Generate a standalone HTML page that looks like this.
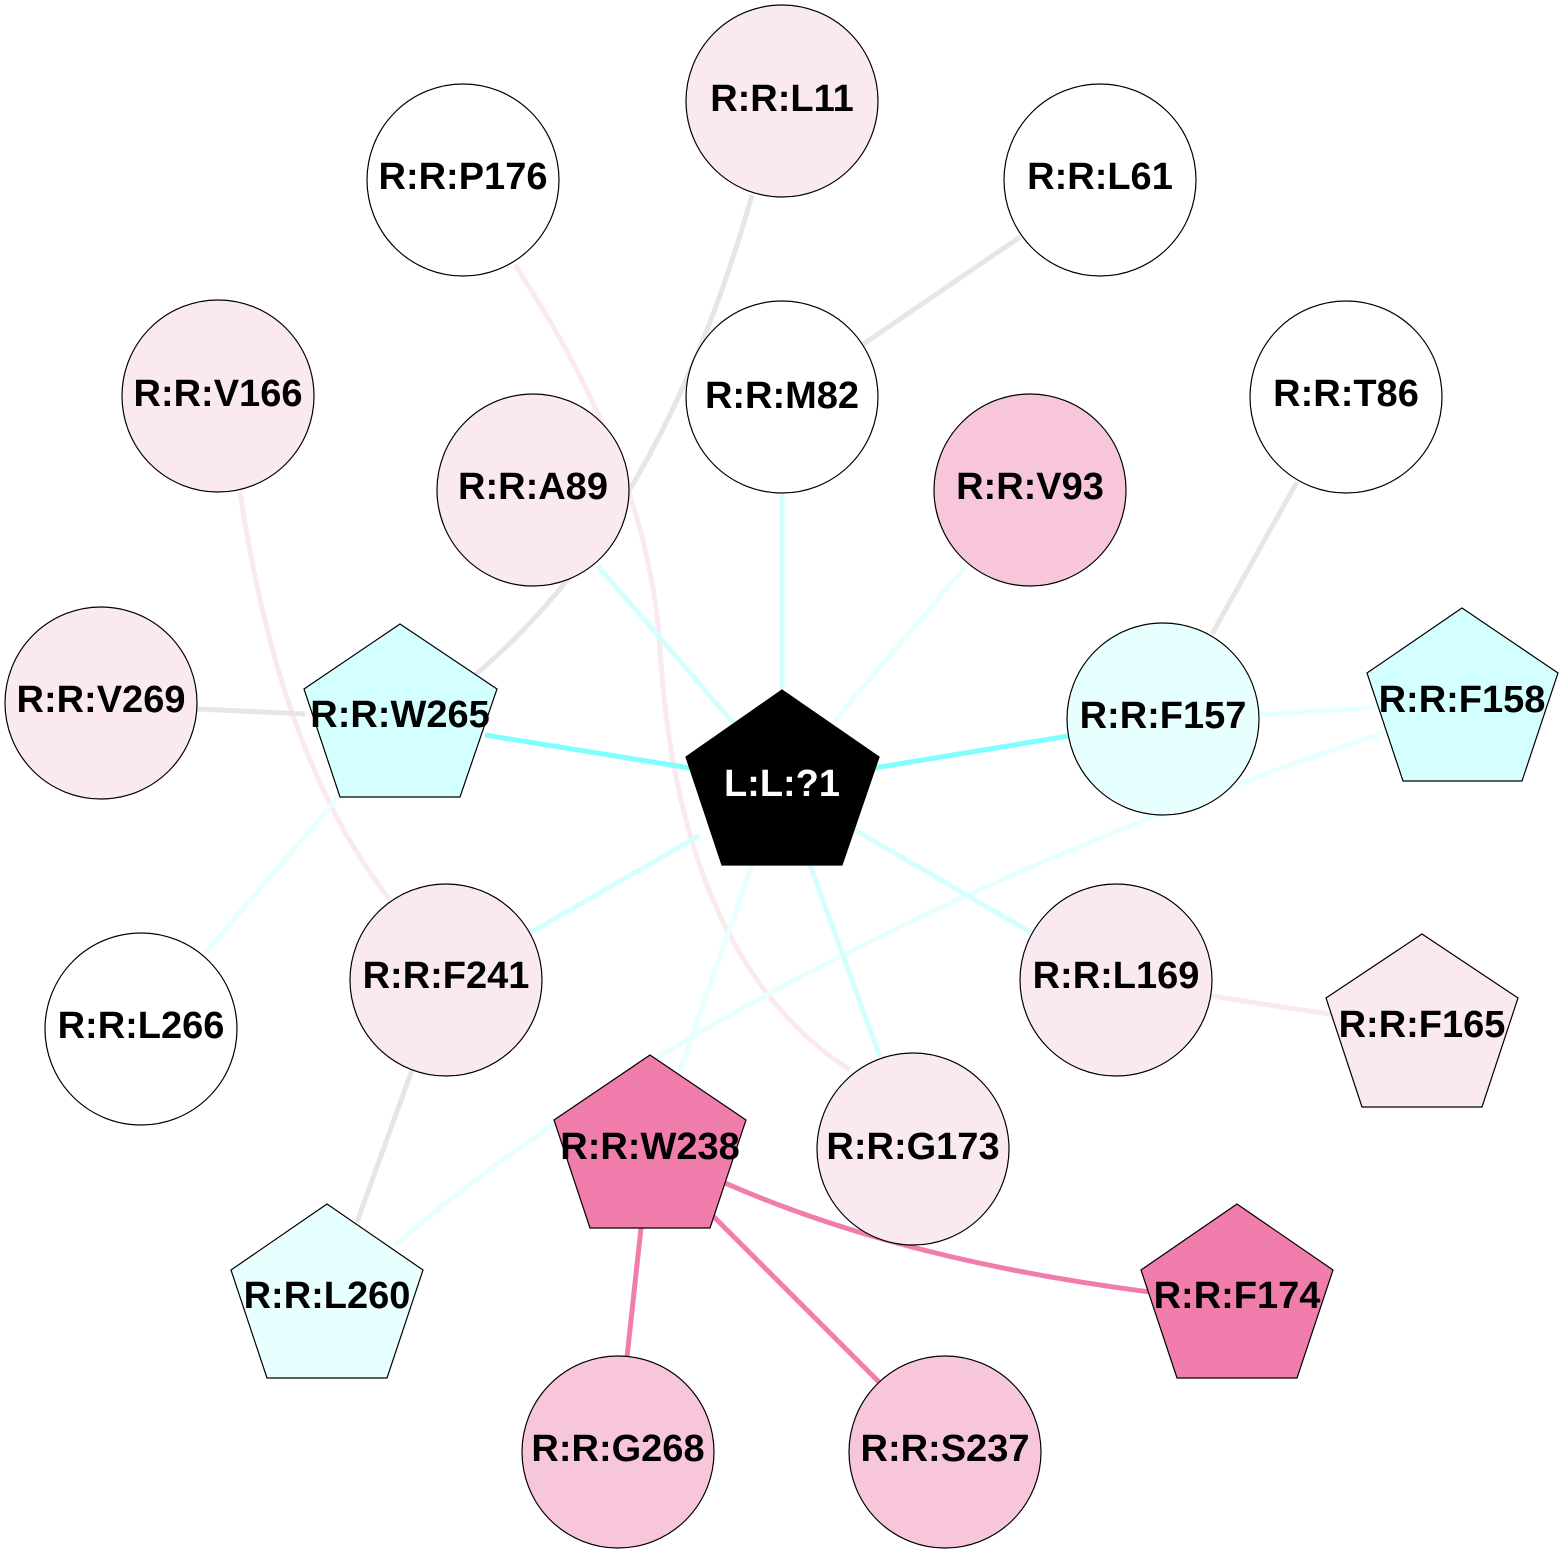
<!DOCTYPE html>
<html><head><meta charset="utf-8"><style>
html,body{margin:0;padding:0;background:#fff;}
svg{display:block}
text{font-family:"Liberation Sans",Arial,sans-serif;font-weight:bold;font-size:38px;text-anchor:middle;dominant-baseline:central;}
</style></head><body>
<svg width="1564" height="1554" viewBox="0 0 1564 1554" xmlns="http://www.w3.org/2000/svg">
<g fill="none" stroke-width="5">
<path d="M752,195 Q660,520 475,675" stroke="#e6e6e6"/>
<path d="M1020,237 L862,345" stroke="#e6e6e6"/>
<path d="M515,265 Q650,470 660,650 Q680,960 850,1070" stroke="#fbe9f0"/>
<path d="M240,492 Q280,760 390,900" stroke="#fbe9f0"/>
<path d="M782,493 L782,690" stroke="#d4ffff"/>
<path d="M598,566 L735,725" stroke="#d4ffff"/>
<path d="M965,567 L835,720" stroke="#e8ffff"/>
<path d="M1297,482 L1212,634" stroke="#e6e6e6"/>
<path d="M197,709 L305,714" stroke="#e6e6e6"/>
<path d="M485,735 L690,768" stroke="#80ffff"/>
<path d="M874,768 L1068,736" stroke="#80ffff"/>
<path d="M1259,715 L1380,707" stroke="#e8ffff"/>
<path d="M1385,732 Q740,950 395,1245" stroke="#e8ffff"/>
<path d="M340,795 L205,953" stroke="#e8ffff"/>
<path d="M700,835 L530,933" stroke="#d4ffff"/>
<path d="M855,830 L1030,932" stroke="#d4ffff"/>
<path d="M810,865 L880,1057" stroke="#d4ffff"/>
<path d="M752,865 L680,1070" stroke="#e8ffff"/>
<path d="M1211,996 L1335,1015" stroke="#fbe9f0"/>
<path d="M412,1070 L357,1222" stroke="#e6e6e6"/>
<path d="M641,1228 L627,1357" stroke="#f07dab"/>
<path d="M712,1215 L880,1383" stroke="#f07dab"/>
<path d="M725,1183 Q900,1260 1150,1292" stroke="#f07dab"/>
</g>
<g stroke="#000" stroke-width="1.2">
<circle cx="782" cy="101" r="96" fill="#fbe9f2"/>
<circle cx="463" cy="180" r="96" fill="#fff"/>
<circle cx="1100" cy="180" r="96" fill="#fff"/>
<circle cx="218" cy="396" r="96" fill="#fbe9f2"/>
<circle cx="782" cy="397" r="96" fill="#fff"/>
<circle cx="1346" cy="397" r="96" fill="#fff"/>
<circle cx="533" cy="490" r="96" fill="#fbe9f2"/>
<circle cx="1030" cy="490" r="96" fill="#f7c6db"/>
<circle cx="101" cy="703" r="96" fill="#fbe9f2"/>
<circle cx="1163" cy="719" r="96" fill="#e8ffff"/>
<circle cx="141" cy="1029" r="96" fill="#fff"/>
<circle cx="446" cy="980" r="96" fill="#fbe9f2"/>
<circle cx="1116" cy="980" r="96" fill="#fbe9f2"/>
<circle cx="913" cy="1149" r="96" fill="#fbe9f2"/>
<circle cx="618" cy="1452" r="96" fill="#f7c6db"/>
<circle cx="945" cy="1452" r="96" fill="#f7c6db"/>
<polygon points="400,624 497,689 460,797 340,797 304,689" fill="#d4ffff"/>
<polygon points="782,690 879,757 842,865 722,865 686,757" fill="#000"/>
<polygon points="1462,608 1558,673 1522,781 1403,781 1367,673" fill="#d4ffff"/>
<polygon points="1422,934 1518,998 1482,1107 1362,1107 1326,998" fill="#fbe9f2"/>
<polygon points="650,1055 746,1120 710,1228 590,1228 554,1120" fill="#f07dab"/>
<polygon points="327,1204 423,1270 387,1378 267,1378 231,1270" fill="#e8ffff"/>
<polygon points="1237,1204 1333,1270 1297,1378 1177,1378 1141,1270" fill="#f07dab"/>
</g>
<g>
<text x="782" y="99">R:R:L11</text>
<text x="463" y="177">R:R:P176</text>
<text x="1100" y="177">R:R:L61</text>
<text x="218" y="394">R:R:V166</text>
<text x="782" y="396">R:R:M82</text>
<text x="1346" y="394">R:R:T86</text>
<text x="533" y="487">R:R:A89</text>
<text x="1030" y="487">R:R:V93</text>
<text x="101" y="700">R:R:V269</text>
<text x="400" y="715">R:R:W265</text>
<text x="782" y="784" fill="#fff">L:L:?1</text>
<text x="1163" y="716">R:R:F157</text>
<text x="1462" y="700">R:R:F158</text>
<text x="141" y="1026">R:R:L266</text>
<text x="446" y="976">R:R:F241</text>
<text x="1116" y="976">R:R:L169</text>
<text x="1422" y="1025">R:R:F165</text>
<text x="650" y="1147">R:R:W238</text>
<text x="913" y="1147">R:R:G173</text>
<text x="327" y="1296">R:R:L260</text>
<text x="1237" y="1296">R:R:F174</text>
<text x="618" y="1449">R:R:G268</text>
<text x="945" y="1449">R:R:S237</text>
</g>
</svg>
</body></html>
